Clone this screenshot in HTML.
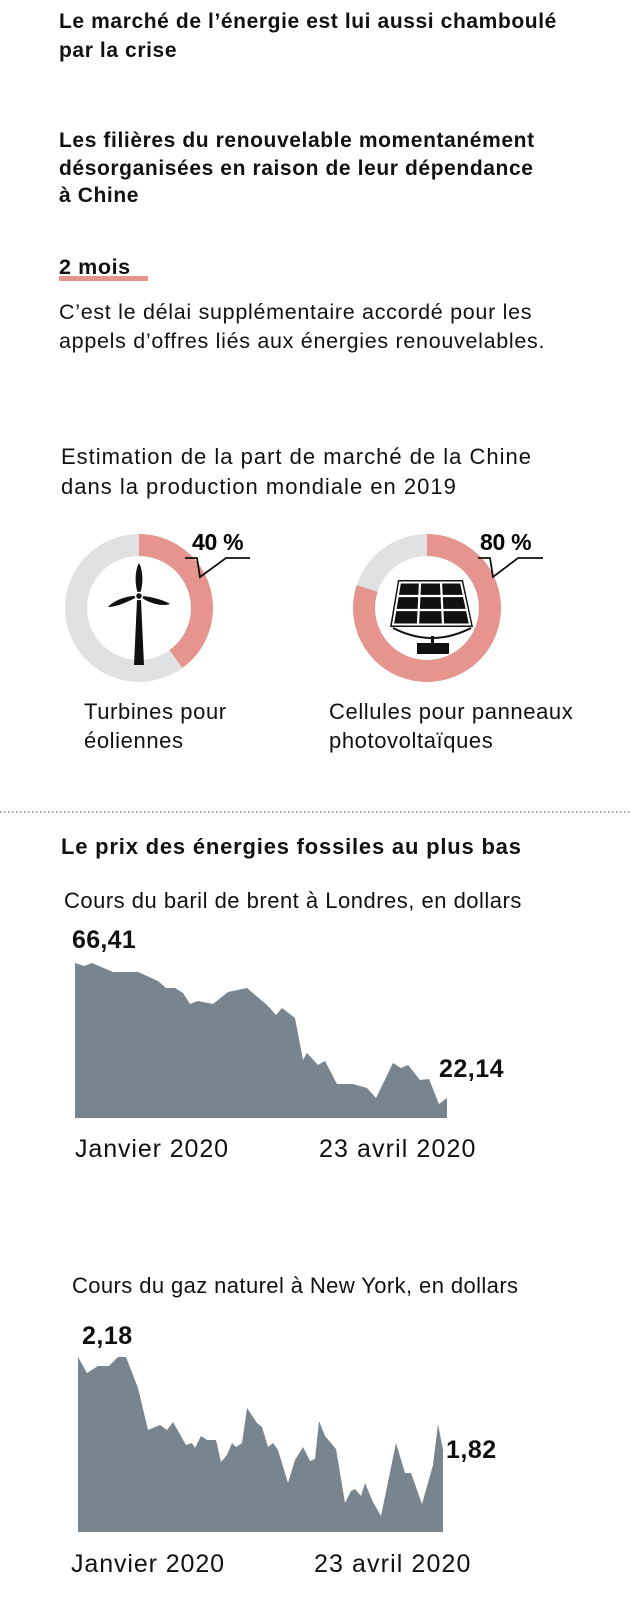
<!DOCTYPE html>
<html><head><meta charset="utf-8">
<style>
html,body{margin:0;padding:0;background:#fff;}
body{width:630px;height:1600px;position:relative;overflow:hidden;font-family:"Liberation Sans",sans-serif;color:#111;}
.t{position:absolute;white-space:nowrap;}
.b{font-weight:bold;}
</style></head><body>
<div class="t b" style="left:59px;top:7px;font-size:21px;line-height:29px;letter-spacing:0.6px;">Le marché de l’énergie est lui aussi chamboulé<br>par la crise</div>
<div class="t b" style="left:59px;top:127px;font-size:21px;line-height:27.5px;letter-spacing:0.6px;">Les filières du renouvelable momentanément<br>désorganisées en raison de leur dépendance<br>à Chine</div>
<div class="t b" style="left:59px;top:254px;font-size:21.5px;line-height:26px;letter-spacing:0.6px;">2 mois</div>
<div style="position:absolute;left:59px;top:276px;width:89px;height:5px;background:#e5958d;"></div>
<div class="t" style="left:59px;top:298px;font-size:21.5px;line-height:29px;letter-spacing:0.7px;">C’est le délai supplémentaire accordé pour les<br>appels d’offres liés aux énergies renouvelables.</div>
<div class="t" style="left:61px;top:442px;font-size:22px;line-height:30px;letter-spacing:1px;">Estimation de la part de marché de la Chine<br>dans la production mondiale en 2019</div>

<svg style="position:absolute;left:0;top:0" width="630" height="1600">
 <circle cx="139" cy="608" r="63" fill="none" stroke="#e0e1e2" stroke-width="22"/>
 <circle cx="139" cy="608" r="63" fill="none" stroke="#e5958d" stroke-width="22" stroke-dasharray="158.3 400" transform="rotate(-90 139 608)"/>
 <polygon points="137,600 141,600 144,665 134,665" fill="#111"/>
 <path d="M139,596 C134,585 135,570 139,563 C143,570 144,585 139,596Z" fill="#111"/>
 <path d="M139,596 C128,602 116,607 108,607 C114,600 128,595 139,596Z" fill="#111"/>
 <path d="M139,596 C150,596 164,600 170,604 C162,607 148,603 139,596Z" fill="#111"/>
 <circle cx="139" cy="596" r="3.5" fill="#111" stroke="#fff" stroke-width="1.5"/>
 <polyline points="185,558 197,558 200,577 226,558 250,558" fill="none" stroke="#111" stroke-width="1.8"/>
 <text x="192" y="550" font-size="23" font-weight="bold" font-family="Liberation Sans" letter-spacing="-0.3">40 %</text>

 <circle cx="427" cy="608" r="63" fill="none" stroke="#e0e1e2" stroke-width="22"/>
 <circle cx="427" cy="608" r="63" fill="none" stroke="#e5958d" stroke-width="22" stroke-dasharray="316.7 400" transform="rotate(-90 427 608)"/>
 <polygon points="398,580 463,580 473,627 390,627" fill="#111"/>
 <g stroke="#fff" stroke-width="2.2">
  <line x1="398" y1="596" x2="465" y2="596"/>
  <line x1="395" y1="610" x2="468" y2="610"/>
  <line x1="420" y1="583" x2="418" y2="624"/>
  <line x1="441" y1="583" x2="443" y2="624"/>
 </g>
 <polygon points="400,582.5 461,582.5 470,624.5 393,624.5" fill="none" stroke="#fff" stroke-width="2"/>
 <path d="M393,628 Q432,648 471,628" fill="none" stroke="#111" stroke-width="2"/>
 <rect x="431" y="636" width="3" height="8" fill="#111"/>
 <rect x="417" y="643" width="32" height="11" fill="#111"/>
 <polyline points="478,558 490,558 493,577 518,558 543,558" fill="none" stroke="#111" stroke-width="1.8"/>
 <text x="480" y="550" font-size="23" font-weight="bold" font-family="Liberation Sans" letter-spacing="-0.3">80 %</text>

 <line x1="0" y1="812" x2="630" y2="812" stroke="#777" stroke-width="1.3" stroke-dasharray="1.5 2.5"/>

 <polygon fill="#78858f" points="75,963 84,966 92,963 113,972 138,972 158,981 166,988 175,988 183,993 190,1004 198,1001 213,1004 228,992 247,988 267,1005 276,1015 282,1008 295,1018 303,1060 307,1053 318,1065 325,1061 337,1084 353,1084 367,1088 376,1098 393,1063 401,1068 408,1065 420,1080 429,1079 439,1104 447,1098 447,1118 75,1118"/>
 <polygon fill="#78858f" points="78,1357 87,1373 98,1366 109,1366 118,1357 126,1357 138,1388 148,1430 160,1425 167,1430 173,1422 186,1445 192,1443 195,1448 201,1436 207,1440 216,1440 221,1462 227,1455 232,1443 236,1447 242,1443 247,1408 257,1423 262,1427 268,1447 273,1443 278,1450 288,1483 295,1460 303,1447 310,1461 315,1459 319,1421 325,1436 336,1449 345,1503 351,1491 355,1489 361,1496 365,1483 373,1502 381,1516 396,1443 405,1473 411,1473 422,1504 433,1465 438,1424 443,1450 443,1532 78,1532"/>
</svg>

<div class="t" style="left:84px;top:697px;font-size:22px;line-height:29px;letter-spacing:0.6px;">Turbines pour<br>éoliennes</div>
<div class="t" style="left:329px;top:697px;font-size:22px;line-height:29px;letter-spacing:0.6px;">Cellules pour panneaux<br>photovoltaïques</div>

<div class="t b" style="left:61px;top:834px;font-size:22px;line-height:26px;letter-spacing:0.8px;">Le prix des énergies fossiles au plus bas</div>
<div class="t" style="left:64px;top:887px;font-size:22px;line-height:28px;letter-spacing:0.5px;">Cours du baril de brent à Londres, en dollars</div>
<div class="t b" style="left:72px;top:925px;font-size:25px;line-height:30px;letter-spacing:0.3px;">66,41</div>
<div class="t b" style="left:439px;top:1054px;font-size:25px;line-height:30px;letter-spacing:0.5px;">22,14</div>
<div class="t" style="left:75px;top:1134px;font-size:25px;line-height:30px;letter-spacing:0.9px;">Janvier 2020</div>
<div class="t" style="left:319px;top:1134px;font-size:25px;line-height:30px;letter-spacing:1.1px;">23 avril 2020</div>

<div class="t" style="left:72px;top:1272px;font-size:22px;line-height:28px;letter-spacing:0.4px;">Cours du gaz naturel à New York, en dollars</div>
<div class="t b" style="left:82px;top:1321px;font-size:25px;line-height:30px;letter-spacing:0.5px;">2,18</div>
<div class="t b" style="left:446px;top:1435px;font-size:25px;line-height:30px;letter-spacing:0.5px;">1,82</div>
<div class="t" style="left:71px;top:1549px;font-size:25px;line-height:30px;letter-spacing:0.9px;">Janvier 2020</div>
<div class="t" style="left:314px;top:1549px;font-size:25px;line-height:30px;letter-spacing:1.1px;">23 avril 2020</div>
</body></html>
